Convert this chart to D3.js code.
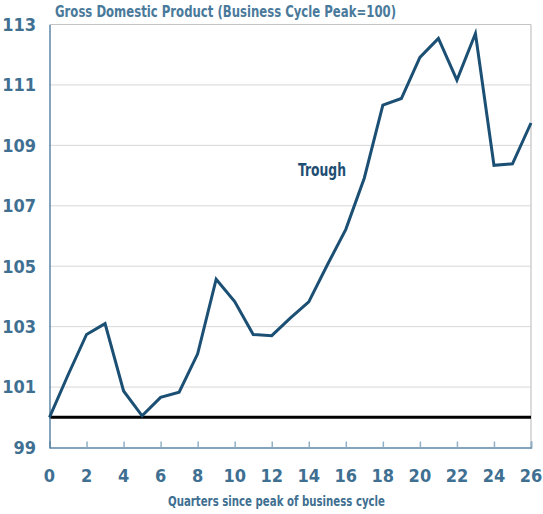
<!DOCTYPE html>
<html><head><meta charset="utf-8">
<script src="https://cdn.jsdelivr.net/npm/d3@7"></script>
<style>
body{margin:0;background:#fff;}
svg{display:block;}
text{font-family:"DejaVu Sans Condensed","DejaVu Sans",sans-serif;font-weight:bold;}
</style></head>
<body><svg id="chart" width="543" height="514"></svg>
<script>
const quarters = [0,1,2,3,4,5,6,7,8,9,10,11,12,13,14,15,16,17,18,19,20,21,22,23,24,25,26];
const gdp = [100.0,101.4,102.74,103.1,100.87,100.05,100.66,100.83,102.1,104.57,103.83,102.74,102.7,103.28,103.82,105.04,106.22,107.92,110.33,110.55,111.91,112.54,111.16,112.7,108.34,108.39,109.74];
const xTicks = [0,2,4,6,8,10,12,14,16,18,20,22,24,26];
const yTicks = [99,101,103,105,107,109,111,113];
const gridValues = [101,103,105,107,109,111];
const baselineValue = 100;
const titleText = "Gross Domestic Product (Business Cycle Peak=100)";
const xLabel = "Quarters since peak of business cycle";
const annotationLabel = "Trough";

const svg = d3.select("#chart");
const L=49.5, R=531, T=24.5, B=447.5;
const x = d3.scaleLinear().domain([0,26]).range([L,R]);
const y = d3.scaleLinear().domain([99,113]).range([B,T]);
const tickCol="#3f6f91", axisCol="#5b87a6";

// grid
svg.append("g").selectAll("line").data(gridValues).join("line")
  .attr("x1",L).attr("x2",R).attr("y1",d=>y(d)).attr("y2",d=>y(d))
  .attr("stroke","#b0b0b0").attr("stroke-width",1).attr("stroke-dasharray","1,1");
// top border & right border
svg.append("line").attr("x1",L).attr("x2",R).attr("y1",y(113)).attr("y2",y(113))
  .attr("stroke","#c4c4c4").attr("stroke-width",1.2);
svg.append("line").attr("x1",R).attr("x2",R).attr("y1",y(113)).attr("y2",B)
  .attr("stroke","#c4c4c4").attr("stroke-width",1.2);

// baseline 100
svg.append("line").attr("x1",L).attr("x2",R).attr("y1",y(baselineValue)).attr("y2",y(baselineValue))
  .attr("stroke","#000").attr("stroke-width",3);

// axes
const xAxis = d3.axisBottom(x).tickValues(xTicks).tickSize(-6).tickFormat("");
const gx = svg.append("g").attr("transform",`translate(0,${B})`).call(xAxis);
gx.select(".domain").attr("stroke",axisCol).attr("stroke-width",1.5);
gx.selectAll(".tick line").attr("stroke","#8fb0c6").attr("stroke-width",1.5);
const yAxis = d3.axisLeft(y).tickValues([]).tickSize(0);
const gy = svg.append("g").attr("transform",`translate(${L},0)`).call(yAxis);
gy.select(".domain").attr("stroke",axisCol).attr("stroke-width",1.5);

// tick labels
svg.append("g").selectAll("text").data(xTicks).join("text")
  .attr("x",d=>x(d)).attr("y",476).attr("dy","0.35em").attr("text-anchor","middle")
  .attr("fill",tickCol).attr("font-size",18).text(d=>d);
svg.append("g").selectAll("text").data(yTicks).join("text")
  .attr("x",36).attr("y",d=>y(d)).attr("dy","0.35em").attr("text-anchor","end")
  .attr("fill",tickCol).attr("font-size",18).text(d=>d);

// line
const line = d3.line().x((d,i)=>x(quarters[i])).y(d=>y(d));
svg.append("path").datum(gdp).attr("d",line).attr("fill","none")
  .attr("stroke","#1b4f74").attr("stroke-width",3).attr("stroke-linejoin","miter");

// title
svg.append("text").attr("x",55).attr("y",12).attr("dy","0.35em")
  .attr("fill","#4a7a9b").attr("font-size",15.5).attr("textLength",341).attr("lengthAdjust","spacingAndGlyphs").text(titleText);
// x label
svg.append("text").attr("x",276.5).attr("y",501).attr("dy","0.35em").attr("text-anchor","middle")
  .attr("fill",tickCol).attr("font-size",13.5).attr("textLength",217).attr("lengthAdjust","spacingAndGlyphs").text(xLabel);
// annotation
svg.append("text").attr("x",322).attr("y",170).attr("dy","0.35em").attr("text-anchor","middle")
  .attr("fill","#1f4e73").attr("font-size",17).attr("textLength",48).attr("lengthAdjust","spacingAndGlyphs").text(annotationLabel);
</script></body></html>
